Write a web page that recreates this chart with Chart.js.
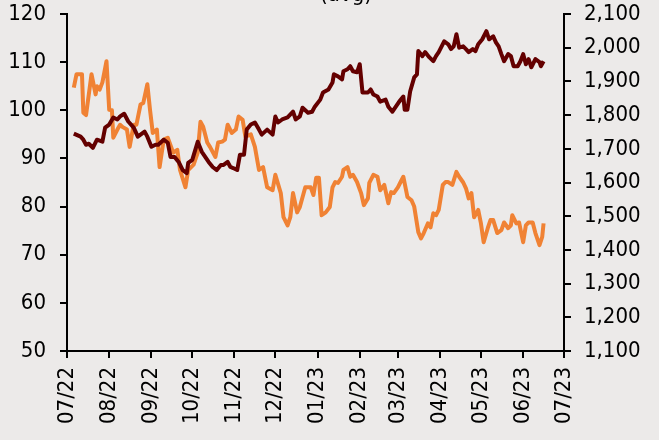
<!DOCTYPE html>
<html>
<head>
    <title>Chart</title>
    <script src="https://cdn.jsdelivr.net/npm/chart.js@4.4.0/dist/chart.umd.min.js"></script>
    <style>
        html, body { margin: 0; padding: 0; background: #ECEAE9; }
        #wrap { width: 659px; height: 440px; }
    </style>
</head>
<body>
    <div id="wrap"><canvas id="chart"></canvas></div>

    <script>
        // month ticks (days from 1 Jul 2022) and their labels
        var monthDays = [0, 31, 62, 92, 123, 153, 184, 215, 243, 274, 304, 335, 365];
        var monthLabels = ['07/22', '08/22', '09/22', '10/22', '11/22', '12/22', '01/23',
                           '02/23', '03/23', '04/23', '05/23', '06/23', '07/23'];

        // orange series, left axis
        var orangeDates = [
            '2022-07-06','2022-07-08','2022-07-12','2022-07-13','2022-07-15','2022-07-19','2022-07-22','2022-07-23',
            '2022-07-25','2022-07-27','2022-07-30','2022-08-01','2022-08-03','2022-08-04','2022-08-07','2022-08-09',
            '2022-08-11','2022-08-14','2022-08-16','2022-08-19','2022-08-21','2022-08-24','2022-08-26','2022-08-29',
            '2022-08-31','2022-09-02','2022-09-05','2022-09-07','2022-09-10','2022-09-13','2022-09-17','2022-09-20',
            '2022-09-22','2022-09-26','2022-09-28','2022-10-02','2022-10-05','2022-10-07','2022-10-09','2022-10-12',
            '2022-10-14','2022-10-18','2022-10-20','2022-10-23','2022-10-25','2022-10-27','2022-10-30','2022-11-02',
            '2022-11-04','2022-11-07','2022-11-09','2022-11-13','2022-11-16','2022-11-19','2022-11-22','2022-11-25',
            '2022-11-29','2022-12-01','2022-12-05','2022-12-07','2022-12-10','2022-12-12','2022-12-14','2022-12-17',
            '2022-12-19','2022-12-23','2022-12-27','2022-12-29','2022-12-31','2023-01-02','2023-01-04','2023-01-07',
            '2023-01-10','2023-01-12','2023-01-14','2023-01-16','2023-01-19','2023-01-20','2023-01-23','2023-01-25',
            '2023-01-27','2023-01-30','2023-02-02','2023-02-04','2023-02-07','2023-02-08','2023-02-11','2023-02-14',
            '2023-02-16','2023-02-19','2023-02-22','2023-02-24','2023-02-26','2023-03-01','2023-03-03','2023-03-05',
            '2023-03-08','2023-03-11','2023-03-13','2023-03-16','2023-03-18','2023-03-20','2023-03-23','2023-03-25',
            '2023-03-27','2023-03-29','2023-03-31','2023-04-03','2023-04-05','2023-04-07','2023-04-10','2023-04-13',
            '2023-04-15','2023-04-18','2023-04-20','2023-04-22','2023-04-24','2023-04-26','2023-04-29','2023-05-01',
            '2023-05-03','2023-05-06','2023-05-08','2023-05-10','2023-05-13','2023-05-16','2023-05-18','2023-05-21',
            '2023-05-23','2023-05-24','2023-05-27','2023-05-29','2023-06-01','2023-06-03','2023-06-05','2023-06-08',
            '2023-06-10','2023-06-13','2023-06-15','2023-06-16'
        ];
        var orangeValues = [
            104.7, 107.5, 107.5, 99.5, 99.0, 107.5, 103.3, 105.0,
            104.3, 105.8, 110.2, 100.1, 100.0, 94.3, 96.0, 97.0,
            96.5, 96.0, 92.4, 97.0, 97.0, 101.2, 101.5, 105.4,
            100.0, 95.3, 96.0, 88.2, 93.9, 94.3, 91.2, 91.8,
            87.6, 84.0, 87.6, 88.7, 91.2, 97.6, 96.6, 93.3,
            92.4, 90.3, 93.3, 93.5, 93.9, 97.0, 95.3, 96.0,
            98.7, 98.0, 94.5, 95.0, 92.4, 87.6, 88.2, 84.0,
            83.4, 86.6, 82.8, 77.8, 76.1, 77.8, 82.8, 78.8,
            79.9, 84.0, 84.0, 82.4, 86.0, 86.0, 78.2, 78.8,
            79.9, 84.0, 85.1, 84.9, 86.2, 87.6, 88.2, 86.2,
            86.6, 85.1, 82.8, 80.3, 81.7, 84.9, 86.6, 86.2,
            83.4, 84.5, 80.7, 83.0, 82.8, 84.0, 85.1, 86.2,
            82.0, 81.3, 80.0, 74.7, 73.4, 74.5, 76.5, 75.7,
            78.6, 78.2, 79.3, 84.5, 85.1, 85.1, 84.5, 87.2,
            86.2, 85.0, 83.8, 81.7, 82.8, 77.8, 79.3, 76.5,
            72.6, 75.5, 77.2, 77.2, 74.5, 75.1, 76.7, 75.5,
            76.1, 78.2, 76.5, 76.7, 72.6, 76.1, 76.7, 76.7,
            74.5, 72.0, 73.7, 76.5
        ];

        // dark red series, right axis
        var redDates = [
            '2022-07-06','2022-07-11','2022-07-13','2022-07-15','2022-07-17','2022-07-20','2022-07-23','2022-07-27',
            '2022-07-29','2022-08-01','2022-08-04','2022-08-07','2022-08-09','2022-08-12','2022-08-15','2022-08-19',
            '2022-08-22','2022-08-24','2022-08-27','2022-08-29','2022-09-01','2022-09-04','2022-09-06','2022-09-10',
            '2022-09-13','2022-09-15','2022-09-18','2022-09-21','2022-09-24','2022-09-27','2022-09-28','2022-10-01',
            '2022-10-05','2022-10-08','2022-10-11','2022-10-13','2022-10-16','2022-10-19','2022-10-22','2022-10-24',
            '2022-10-27','2022-10-29','2022-10-31','2022-11-03','2022-11-05','2022-11-08','2022-11-10','2022-11-13',
            '2022-11-16','2022-11-19','2022-11-21','2022-11-25','2022-11-29','2022-12-01','2022-12-03','2022-12-06',
            '2022-12-10','2022-12-14','2022-12-16','2022-12-19','2022-12-21','2022-12-25','2022-12-28','2022-12-30',
            '2023-01-03','2023-01-05','2023-01-09','2023-01-12','2023-01-13','2023-01-16','2023-01-19','2023-01-20',
            '2023-01-23','2023-01-25','2023-01-27','2023-01-30','2023-02-01','2023-02-03','2023-02-07','2023-02-09',
            '2023-02-11','2023-02-14','2023-02-16','2023-02-20','2023-02-22','2023-02-25','2023-02-27','2023-03-02',
            '2023-03-05','2023-03-06','2023-03-08','2023-03-10','2023-03-13','2023-03-15','2023-03-16','2023-03-19',
            '2023-03-21','2023-03-24','2023-03-27','2023-03-29','2023-03-31','2023-04-04','2023-04-07','2023-04-09',
            '2023-04-11','2023-04-13','2023-04-15','2023-04-18','2023-04-20','2023-04-22','2023-04-25','2023-04-27',
            '2023-04-29','2023-05-02','2023-05-05','2023-05-07','2023-05-10','2023-05-12','2023-05-14','2023-05-16',
            '2023-05-18','2023-05-21','2023-05-23','2023-05-25','2023-05-28','2023-05-30','2023-06-01','2023-06-03',
            '2023-06-05','2023-06-07','2023-06-10','2023-06-13','2023-06-14','2023-06-16'
        ];
        var redValues = [
            1745, 1736, 1727, 1712, 1715, 1703, 1727, 1721,
            1763, 1772, 1793, 1787, 1796, 1804, 1781, 1763,
            1736, 1742, 1751, 1736, 1706, 1712, 1712, 1727,
            1718, 1676, 1676, 1661, 1637, 1628, 1658, 1667,
            1721, 1691, 1673, 1661, 1646, 1637, 1652, 1652,
            1661, 1646, 1643, 1637, 1682, 1682, 1757, 1772,
            1778, 1757, 1742, 1757, 1742, 1796, 1778, 1787,
            1793, 1810, 1787, 1796, 1822, 1807, 1810, 1825,
            1846, 1867, 1876, 1897, 1921, 1915, 1906, 1930,
            1936, 1945, 1930, 1927, 1951, 1867, 1867, 1876,
            1861, 1855, 1840, 1846, 1825, 1810, 1822, 1840,
            1855, 1816, 1816, 1870, 1912, 1921, 1990, 1975,
            1987, 1972, 1960, 1975, 1987, 2019, 2010, 1996,
            2004, 2040, 2000, 2004, 1996, 1987, 1996, 1990,
            2010, 2025, 2049, 2025, 2034, 2016, 2004, 1981,
            1960, 1981, 1975, 1945, 1945, 1960, 1981, 1951,
            1966, 1942, 1966, 1957, 1945, 1960
        ];

        var startDay = Date.UTC(2022, 6, 1);
        function toPoints(dates, values) {
            return dates.map(function(d, i) {
                var p = d.split('-');
                var day = (Date.UTC(+p[0], +p[1] - 1, +p[2]) - startDay) / 86400000;
                return { x: day, y: values[i] };
            });
        }

        var fontFamily = "'DejaVu Sans Condensed', 'DejaVu Sans', sans-serif";
        Chart.defaults.font.family = fontFamily;
        Chart.defaults.font.size = 22;
        Chart.defaults.color = '#000';

        var bgPlugin = {
            id: 'bg',
            beforeDraw: function(chart) {
                var c = chart.ctx;
                c.save();
                c.fillStyle = '#ECEAE9';
                c.fillRect(0, 0, chart.width, chart.height);
                c.restore();
            },
            afterDraw: function(chart) {
                // title line that sits just above the picture edge
                var c = chart.ctx;
                c.save();
                c.fillStyle = '#000';
                c.font = '22px ' + fontFamily;
                c.textAlign = 'center';
                c.textBaseline = 'alphabetic';
                c.fillText('(avg)', 346, 1);
                c.restore();
            }
        };

        var axisLine = { display: true, color: '#000', width: 2 };
        var tickGrid = { display: true, drawOnChartArea: false, drawTicks: true, tickLength: 7, color: '#000', lineWidth: 2 };

        // fixed axis size, without the extra room Chart.js keeps for end labels
        function fixWidth(w) {
            return function(axis) {
                axis.width = w;
                axis.paddingTop = 0;
                axis.paddingBottom = 0;
            };
        }

        var ctx = document.getElementById('chart').getContext('2d');
        var chart = new Chart(ctx, {
            type: 'line',
            data: {
                datasets: [{
                    label: 'rhs',
                    data: toPoints(redDates, redValues),
                    yAxisID: 'y2',
                    borderColor: '#640000',
                    borderWidth: 4,
                    pointRadius: 0,
                    tension: 0,
                    borderJoinStyle: 'round'
                }, {
                    label: 'lhs',
                    data: toPoints(orangeDates, orangeValues),
                    yAxisID: 'y',
                    borderColor: '#F08234',
                    borderWidth: 4,
                    pointRadius: 0,
                    tension: 0,
                    borderJoinStyle: 'round'
                }]
            },
            options: {
                responsive: true,
                maintainAspectRatio: false,
                animation: false,
                layout: { padding: { top: 14, left: 0, right: 0, bottom: 0 } },
                plugins: { legend: { display: false }, tooltip: { enabled: false } },
                scales: {
                    x: {
                        type: 'linear',
                        min: 0,
                        max: 365,
                        border: axisLine,
                        grid: tickGrid,
                        afterBuildTicks: function(axis) {
                            axis.ticks = monthDays.map(function(v) { return { value: v }; });
                        },
                        afterFit: function(axis) {
                            axis.height = 89;
                            axis.paddingLeft = 0;
                            axis.paddingRight = 0;
                        },
                        ticks: {
                            autoSkip: false,
                            minRotation: 90,
                            maxRotation: 90,
                            padding: 9,
                            callback: function(value) {
                                return monthLabels[monthDays.indexOf(value)];
                            }
                        }
                    },
                    y: {
                        position: 'left',
                        min: 50,
                        max: 120,
                        border: axisLine,
                        grid: tickGrid,
                        afterFit: fixWidth(67),
                        ticks: { stepSize: 10, padding: 14 }
                    },
                    y2: {
                        position: 'right',
                        min: 1100,
                        max: 2100,
                        border: axisLine,
                        grid: tickGrid,
                        afterFit: fixWidth(95),
                        ticks: {
                            stepSize: 100,
                            padding: 13,
                            callback: function(value) { return value.toLocaleString('en-US'); }
                        }
                    }
                }
            },
            plugins: [bgPlugin]
        });
    </script>
</body>
</html>
